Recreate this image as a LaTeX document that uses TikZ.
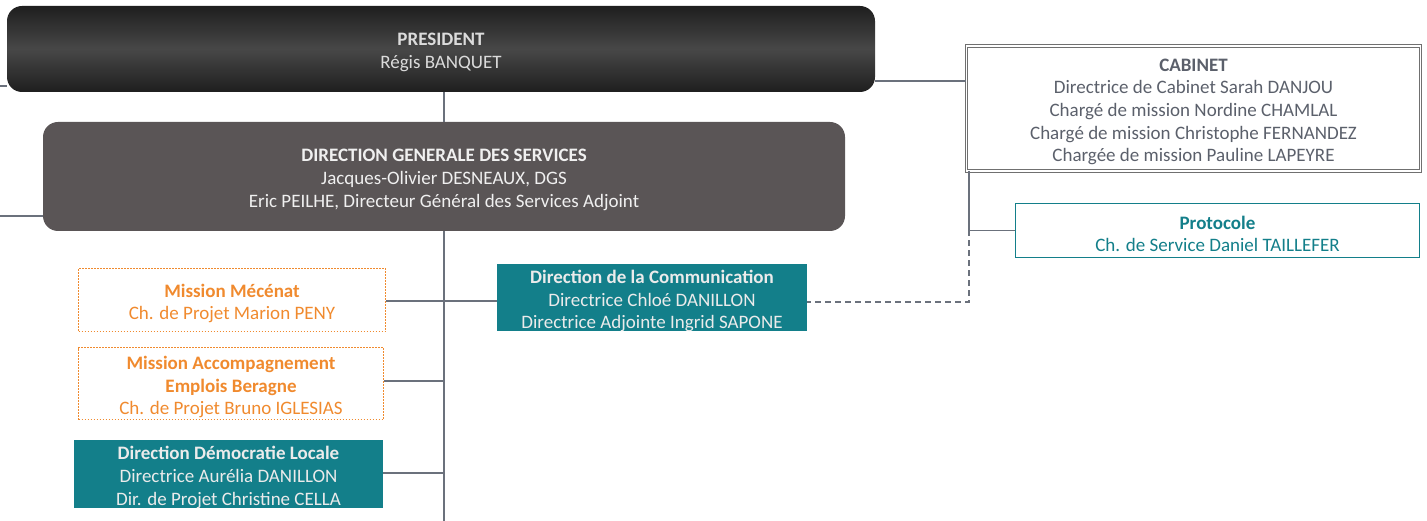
\documentclass[tikz,border=0pt]{standalone}
\usepackage{fontspec}
\setmainfont{Carlito}
\definecolor{linec}{HTML}{6B717C}
\definecolor{tealc}{HTML}{137F8A}
\definecolor{orangec}{HTML}{F08A2E}
\definecolor{dgsc}{HTML}{5A5556}
\definecolor{cabtext}{HTML}{5B606B}
\definecolor{cabborder}{HTML}{707070}
\begin{document}
\begin{tikzpicture}[x=1pt,y=-1pt,
  shell/.style={inner sep=0pt},
  txt/.style={inner sep=0pt, align=center, yshift=-3.5pt, font={\fontsize{19}{22.7}\selectfont}},
  presbox/.style={shell, rounded corners=15pt, top color=black!88, bottom color=black!88, middle color=black!72, minimum width=868pt, minimum height=86pt},
  dgsbox/.style={shell, rounded corners=15pt, fill=dgsc, minimum width=802pt, minimum height=109pt},
  cabbox/.style={shell, draw=cabborder, line width=0.9pt, double=white, double distance=1.5pt, minimum width=454pt, minimum height=125pt},
  protbox/.style={shell, draw=tealc, line width=1.5pt, fill=white, minimum width=404pt, minimum height=54pt},
  tealbox/.style={shell, fill=tealc},
  orbox/.style={shell, draw=orangec, line width=1.4pt, dash pattern=on 1.4pt off 1.6pt},
  conn/.style={draw=linec, line width=1.8pt},
  dconn/.style={draw=linec, line width=1.6pt, dash pattern=on 6pt off 4pt}]
\useasboundingbox (0,0) rectangle (1427,521);
% boxes
\node[presbox] (pres) at (441,49) {};
\node[dgsbox] (dgs) at (444,176.5) {};
\node[cabbox] (cab) at (1193.5,108.5) {};
\node[protbox] (prot) at (1217.5,230.5) {};
\node[tealbox, minimum width=310pt, minimum height=67pt] (com) at (652,297.5) {};
\node[orbox, minimum width=307pt, minimum height=63pt] (mec) at (232,300) {};
\node[orbox, minimum width=305pt, minimum height=72pt] (acc) at (231,383.5) {};
\node[tealbox, minimum width=309pt, minimum height=68pt] (demo) at (228.5,474) {};
% texts
\node[txt, text=black!14] (presT) at (pres.center) {\textbf{PRESIDENT}\\Régis BANQUET};
\node[txt, text=white!94!black] (dgsT) at (dgs.center) {\textbf{DIRECTION GENERALE DES SERVICES}\\Jacques-Olivier DESNEAUX, DGS\\Eric PEILHE, Directeur Général des Services Adjoint};
\node[txt, text=cabtext] (cabT) at (cab.center) {\textbf{CABINET}\\Directrice de Cabinet Sarah DANJOU\\Chargé de mission Nordine CHAMLAL\\Chargé de mission Christophe FERNANDEZ\\Chargée de mission Pauline LAPEYRE};
\node[txt, text=tealc] (protT) at (prot.center) {\textbf{Protocole}\\Ch. de Service Daniel TAILLEFER};
\node[txt, text=white!92!black] (comT) at (com.center) {\textbf{Direction de la Communication}\\Directrice Chloé DANILLON\\Directrice Adjointe Ingrid SAPONE};
\node[txt, text=orangec] (mecT) at (mec.center) {\textbf{Mission Mécénat}\\Ch. de Projet Marion PENY};
\node[txt, text=orangec] (accT) at (acc.center) {\textbf{Mission Accompagnement}\\\textbf{Emplois Beragne}\\Ch. de Projet Bruno IGLESIAS};
\node[txt, text=white!92!black] (demoT) at (demo.center) {\textbf{Direction Démocratie Locale}\\Directrice Aurélia DANILLON\\Dir. de Projet Christine CELLA};
% coordinates
\coordinate (bot) at (444,521);
\coordinate (lp) at (0,86);
\coordinate (ld) at (0,216);
\coordinate (pc) at (920,81);
\coordinate (cv) at (969,230.5);
\coordinate (dc) at (969,302);
\coordinate (mc) at (444,301);
\coordinate (ac) at (444,381);
\coordinate (dm) at (444,473);
% connectors
\draw[conn] (dgs.north |- pres.south) -- (dgs.north);
\draw[conn] (dgs.south) -- (bot);
\draw[conn] (lp) -- (lp -| pres.west);
\draw[conn] (ld) -- (ld -| dgs.west);
\draw[conn] (pc -| pres.east) -- (pc -| cab.west);
\draw[conn] (cv |- cab.south) -- (cv) -- (prot.west);
\draw[dconn] (cv) -- (dc) -- (dc -| com.east);
\draw[conn] (mc -| mec.east) -- (mc -| com.west);
\draw[conn] (ac -| acc.east) -- (ac);
\draw[conn] (dm -| demo.east) -- (dm);
\end{tikzpicture}
\end{document}
